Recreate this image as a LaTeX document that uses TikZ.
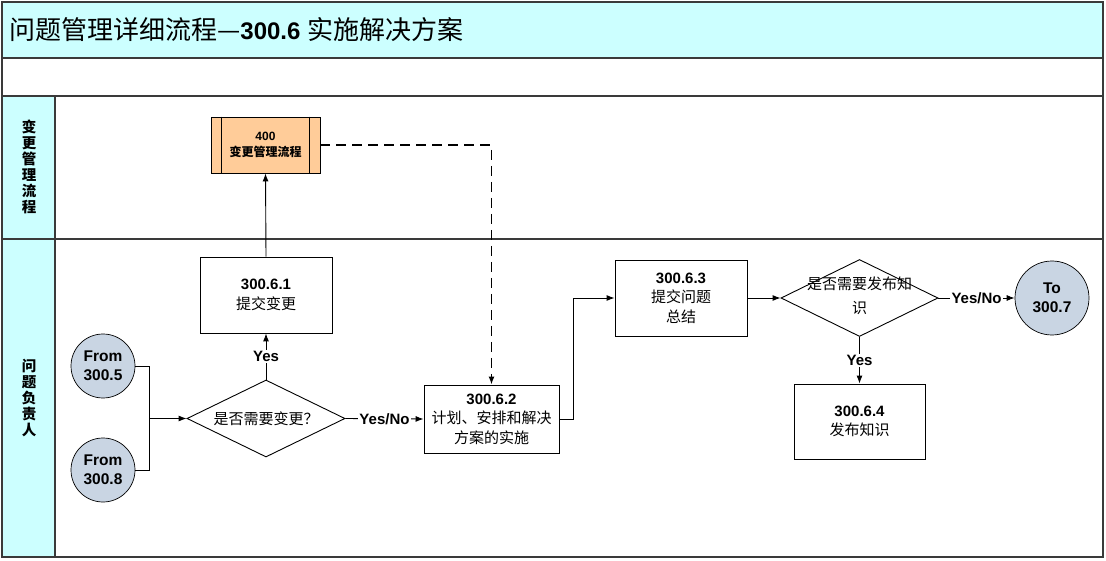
\documentclass[tikz,border=0pt]{standalone}
\usepackage{fontspec}
\setmainfont{Liberation Sans}
\newfontfamily\cjk{Noto Sans CJK SC}
\usetikzlibrary{arrows.meta,shapes.geometric}
\definecolor{bandcyan}{HTML}{CCFFFF}
\definecolor{boxorange}{HTML}{FFCC99}
\definecolor{circblue}{HTML}{C9D5E3}
\definecolor{framegray}{HTML}{3A3A3A}
\newcommand{\latb}[1]{{\rmfamily\bfseries #1}}
\begin{document}
\begin{tikzpicture}[x=1pt,y=-1pt,
  frame/.style={draw=framegray,line width=1.3pt},
  procbox/.style={rectangle,draw=black,line width=0.9pt,fill=white,inner sep=0pt,align=center,
    font=\fontsize{15}{19.5}\selectfont},
  decbox/.style={diamond,draw=black,line width=0.9pt,fill=white,inner sep=0pt},
  dectext/.style={inner sep=0pt,align=center,font=\cjk\fontsize{15}{24}\selectfont},
  termc/.style={circle,draw=black,line width=0.7pt,fill=circblue,minimum size=#1,inner sep=0pt,
    align=center,font=\bfseries\fontsize{15.5}{19}\selectfont},
  conn/.style={line width=0.9pt,draw=black},
  arr/.style={conn,-{Latex[length=8pt,width=6pt]}},
  lbl/.style={fill=white,inner sep=1.5pt,font=\bfseries\fontsize{15}{17}\selectfont},
  lanelbl/.style={inner sep=0pt,align=center,font=\cjk\bfseries\fontsize{14.5}{16}\selectfont}
]
\useasboundingbox (0,0) rectangle (1106,561);
% frame
\draw[frame,fill=bandcyan] (2,2) rectangle (1103,58);
\draw[frame] (2,58) rectangle (1103,96);
\fill[bandcyan] (2,96) rectangle (55,557);
\draw[frame] (2,96) rectangle (1103,557);
\draw[frame] (55,96) -- (55,557);
\draw[frame] (2,239) -- (1103,239);
% title
\node[anchor=west,inner sep=0pt,font=\fontsize{26}{28}\selectfont] (title) at (9,30)
  {{\cjk 问题管理详细流程—}{\rmfamily\bfseries\fontsize{24}{28}\selectfont 300.6} {\cjk 实施解决方案}};
% lane labels
\node[lanelbl] (lane1) at (29,167) {变\\更\\管\\理\\流\\程};
\node[lanelbl] (lane2) at (29,398) {问\\题\\负\\责\\人};
% nodes
\node[procbox,fill=boxorange,minimum width=109,minimum height=56,
  font=\bfseries\fontsize{12}{16}\selectfont] (chg) at (265.5,145) {{400}\\{\cjk\bfseries 变更管理流程}};
\draw[line width=0.9pt] ([xshift=11pt]chg.north west) -- ([xshift=11pt]chg.south west);
\draw[line width=0.9pt] ([xshift=-11pt]chg.north east) -- ([xshift=-11pt]chg.south east);
\node[procbox,minimum width=132,minimum height=76] (n1) at (266,295)
  {{\latb{300.6.1}}\\{\cjk 提交变更}};
\node[decbox,minimum width=158,minimum height=77] (d1) at (266,418.5) {};
\node[dectext] (d1t) at (d1.center) {是否需要变更？};
\node[procbox,minimum width=135,minimum height=68] (n2) at (491.5,419)
  {{\latb{300.6.2}}\\{\cjk 计划、安排和解决}\\{\cjk 方案的实施}};
\node[procbox,minimum width=132,minimum height=76] (n3) at (681,298)
  {{\latb{300.6.3}}\\{\cjk 提交问题}\\{\cjk 总结}};
\node[decbox,minimum width=157,minimum height=77] (d2) at (859.5,298) {};
\node[dectext] (d2t) at (859.5,296) {是否需要发布知\\识};
\node[procbox,minimum width=131,minimum height=75] (n4) at (859.5,421.5)
  {{\latb{300.6.4}}\\{\cjk 发布知识}};
\node[termc=64pt] (from1) at (103,366) {From\\300.5};
\node[termc=64pt] (from2) at (103,470) {From\\300.8};
\node[termc=74pt] (to) at (1052,298) {To\\300.7};
% connectors
\coordinate (jn) at (149,418.5);
\draw[conn] (from1.east) -| (jn);
\draw[conn] (from2.east) -| (jn);
\draw[arr] (jn) -- (d1.west);
\draw[arr] (d1.north) -- node[lbl] {Yes} (n1.south);
\draw[arr] (n1.north) -- (chg.south);
\draw[arr,line width=1.3pt,dash pattern=on 10pt off 6pt] (chg.east) -| (n2.north);
\draw[arr] (d1.east) -- node[lbl] {Yes/No} (n2.west);
\draw[arr] (n2.east) -- ++(14,0) |- (n3.west);
\draw[arr] (n3.east) -- (d2.west);
\draw[arr] (d2.east) -- node[lbl] {Yes/No} (to.west);
\draw[arr] (d2.south) -- node[lbl] {Yes} (n4.north);
\end{tikzpicture}
\end{document}
